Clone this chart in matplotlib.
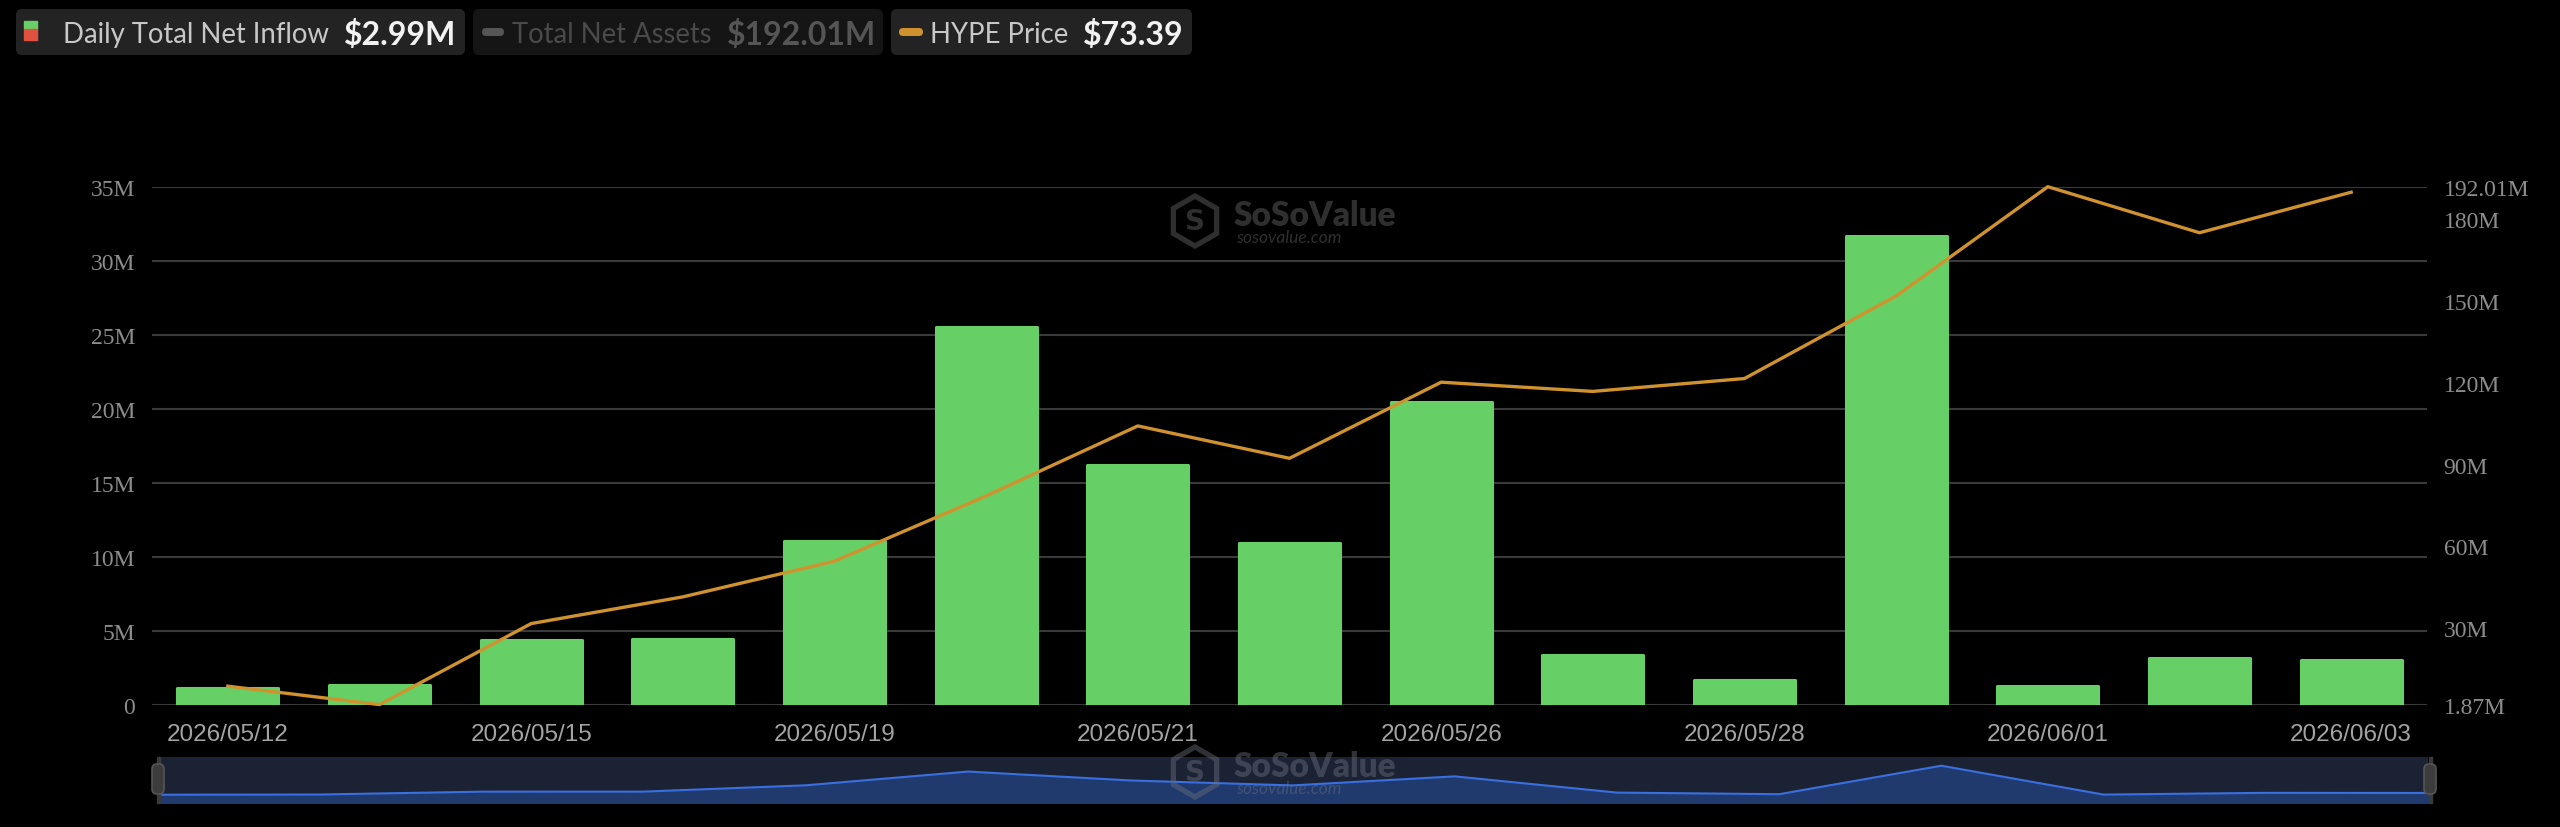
import numpy as np
import matplotlib.pyplot as plt
from matplotlib.patches import FancyBboxPatch, RegularPolygon, Rectangle
from matplotlib.transforms import IdentityTransform

# data (inflow in $M, price in $)
dates = ['2026/05/12', '2026/05/14', '2026/05/15', '2026/05/18', '2026/05/19',
         '2026/05/20', '2026/05/21', '2026/05/22', '2026/05/26', '2026/05/27',
         '2026/05/28', '2026/05/29', '2026/06/01', '2026/06/02', '2026/06/03']
inflow = [1.14, 1.35, 4.35, 4.42, 11.06, 25.53, 16.18, 10.94, 20.48, 3.38,
          1.69, 31.69, 1.28, 3.12, 2.99]
price = [41.20, 40.00, 45.28, 47.02, 49.35, 53.60, 58.16, 56.05, 61.01, 60.41,
         61.25, 66.63, 73.75, 70.75, 73.39]

left_ticks = [0, 5, 10, 15, 20, 25, 30, 35]
left_labels = ['0', '5M', '10M', '15M', '20M', '25M', '30M', '35M']
assets_min, assets_max = 1.87, 192.01
right_ticks = [1.87, 30, 60, 90, 120, 150, 180, 192.01]
right_labels = ['1.87M', '30M', '60M', '90M', '120M', '150M', '180M', '192.01M']

legend_names = ['Daily Total Net Inflow', 'Total Net Assets', 'HYPE Price']
legend_values = ['$2.99M', '$192.01M', '$73.39']

W, H = 2560, 828
GREEN = '#66d066'
ORANGE = '#cf922e'
px = IdentityTransform()

fig = plt.figure(figsize=(W / 100, H / 100), dpi=100, facecolor='black')


def box(x0, y0, x1, y1):
    # pixel box (top-left origin) -> figure fraction rect
    return [x0 / W, 1 - y1 / H, (x1 - x0) / W, (y1 - y0) / H]


# main chart
ax = fig.add_axes(box(152, 187.7, 2427, 705.6))
ax.set_facecolor('black')
x = np.arange(len(dates))
ax.bar(x, inflow, width=0.665, color=GREEN, edgecolor=GREEN, linewidth=2.2,
       joinstyle='round', zorder=2)
ax.set_xlim(-0.5, len(dates) - 0.5)
ax.set_ylim(0, 35)
ax.set_yticks(left_ticks)
ax.set_yticklabels(left_labels, fontfamily='Liberation Serif', fontsize=17, color='#8c8c8c')
ax.set_xticks(x[::2])
ax.set_xticklabels(dates[::2], fontfamily='Liberation Sans', fontsize=17.5, color='#a3a3a3')
ax.tick_params(axis='y', length=0, pad=12)
ax.tick_params(axis='x', length=0, pad=13)
ax.grid(axis='y', color='#3a3a3a', linewidth=1.5, zorder=0)
for s in ax.spines.values():
    s.set_visible(False)

# right axis for total net assets (series itself hidden)
ax2 = ax.twinx()
ax2.set_ylim(assets_min, assets_max)
ax2.set_yticks(right_ticks)
ax2.set_yticklabels(right_labels, fontfamily='Liberation Serif', fontsize=17, color='#8c8c8c')
ax2.tick_params(axis='y', length=0, pad=12)
for s in ax2.spines.values():
    s.set_visible(False)

# price on its own hidden scale
ax3 = ax.twinx()
ax3.plot(x, price, color=ORANGE, linewidth=2.4, clip_on=False, zorder=3)
ax3.set_ylim(min(price), max(price))
ax3.axis('off')

# navigator strip
nav = fig.add_axes(box(157, 757.7, 2428, 804.3))
nav.set_facecolor('#1b2234')
nav.fill_between(x, inflow, -7.9, color='#213a6e')
nav.plot(x, inflow, color='#3a6fe0', linewidth=1.5)
nav.set_xlim(0, len(dates) - 1)
nav.set_ylim(-7.9, 41.2)
nav.set_xticks([])
nav.set_yticks([])
for s in nav.spines.values():
    s.set_visible(False)

for hx in [158, 2430]:
    fig.add_artist(Rectangle((hx - 1.5, H - 804.3), 3, 46.6, color='#3a3a3a',
                             transform=px, zorder=5))
    fig.add_artist(FancyBboxPatch((hx - 6, H - 795), 12, 30,
                                  boxstyle='round,pad=0,rounding_size=5',
                                  facecolor='#3c3c3c', edgecolor='#555555',
                                  linewidth=1.2, transform=px, zorder=6))

# watermarks
for cy, col, alpha in [(222, '#2f2f2f', 1.0), (773, '#6a6f7a', 0.45)]:
    fig.add_artist(RegularPolygon((1195, H - cy), 6, radius=25, facecolor='none',
                                  edgecolor=col, linewidth=3.8, alpha=alpha,
                                  transform=px, zorder=4))
    fig.text(1195, H - cy, 'S', transform=px, ha='center', va='center',
             fontsize=20, fontweight='bold', color=col, alpha=alpha, zorder=4)
    fig.text(1234, H - cy + 6, 'SoSoValue', transform=px, ha='left', va='center',
             fontfamily='Lato', fontsize=24, fontweight='heavy', color=col, alpha=alpha, zorder=4)
    fig.text(1236, H - cy - 16, 'sosovalue.com', transform=px, ha='left', va='center',
             fontfamily='Lato', fontsize=12.5, style='italic', color=col, alpha=alpha, zorder=4)

# legend chips at the top
chips = [(16, 465, 63, 344, '#232323', '#c8c8c8', '#f2f2f2'),
         (473, 883, 512, 727, '#151515', '#4a4a4a', '#555555'),
         (891, 1192, 930, 1083, '#232323', '#c8c8c8', '#f2f2f2')]
for i, (x0, x1, tx, vx, bg, tc, vc) in enumerate(chips):
    fig.add_artist(FancyBboxPatch((x0, H - 56), x1 - x0, 46,
                                  boxstyle='round,pad=0,rounding_size=6',
                                  facecolor=bg, edgecolor='none', transform=px))
    fig.text(tx, H - 33, legend_names[i], transform=px, ha='left', va='center_baseline',
             fontfamily='Lato', fontsize=19.8, color=tc)
    fig.text(vx, H - 33, legend_values[i], transform=px, ha='left', va='center_baseline',
             fontfamily='Lato', fontsize=23, fontweight='bold', color=vc)

fig.add_artist(Rectangle((24, H - 30), 13, 8, color=GREEN, transform=px))
fig.add_artist(Rectangle((24, H - 41), 13, 11, color='#e0513f', transform=px))
fig.add_artist(FancyBboxPatch((482, H - 37), 22, 8, boxstyle='round,pad=0,rounding_size=4',
                              facecolor='#555555', edgecolor='none', transform=px))
fig.add_artist(FancyBboxPatch((899, H - 37), 24, 8, boxstyle='round,pad=0,rounding_size=4',
                              facecolor=ORANGE, edgecolor='none', transform=px))

fig.savefig('out.png', dpi=100, facecolor='black')
